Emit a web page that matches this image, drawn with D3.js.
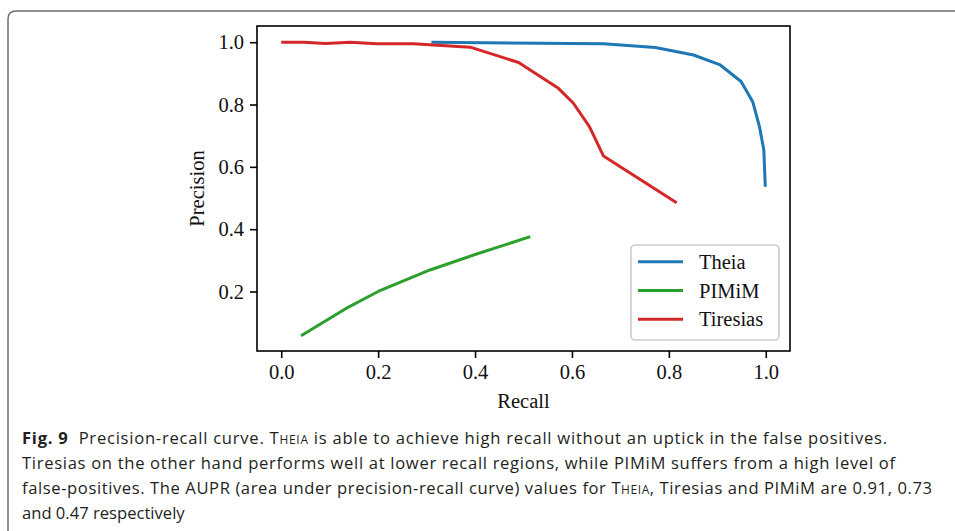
<!DOCTYPE html>
<html>
<head>
<meta charset="utf-8">
<script src="https://cdn.jsdelivr.net/npm/d3@7"></script>
<style>
  html, body { margin: 0; padding: 0; background: #fff; }
  svg { display: block; }
</style>
</head>
<body>
<svg id="chart" width="955" height="531"></svg>
<script>
// ---- data ----
const seriesNames = ["Theia", "PIMiM", "Tiresias"];
const theiaRecall    = [0.31, 0.665, 0.772, 0.851, 0.906, 0.949, 0.973, 0.987, 0.996, 0.999];
const theiaPrecision = [1.0, 0.995, 0.983, 0.959, 0.927, 0.874, 0.809, 0.729, 0.654, 0.536];
const pimimRecall    = [0.041, 0.132, 0.200, 0.307, 0.397, 0.514];
const pimimPrecision = [0.058, 0.144, 0.200, 0.269, 0.317, 0.376];
const tiresiasRecall    = [0.0, 0.046, 0.091, 0.142, 0.197, 0.273, 0.39, 0.49, 0.572, 0.603, 0.636, 0.665, 0.816];
const tiresiasPrecision = [1.0, 1.0, 0.996, 1.0, 0.995, 0.995, 0.984, 0.935, 0.852, 0.804, 0.729, 0.635, 0.485];
const xTicks = [0.0, 0.2, 0.4, 0.6, 0.8, 1.0];
const yTicks = [0.2, 0.4, 0.6, 0.8, 1.0];
const xLabel = "Recall";
const yLabel = "Precision";
const captionLines = [
  [{b:"Fig. 9"}, {t:"  Precision-recall curve. "}, {sc:"Theia"}, {t:" is able to achieve high recall without an uptick in the false positives."}],
  [{t:"Tiresias on the other hand performs well at lower recall regions, while PIMiM suffers from a high level of"}],
  [{t:"false-positives. The AUPR (area under precision-recall curve) values for "}, {sc:"Theia"}, {t:", Tiresias and PIMiM are 0.91, 0.73"}],
  [{t:"and 0.47 respectively"}]
];
const captionWidths = [865, 873, 910, null];

const series = [
  {name: seriesNames[0], r: theiaRecall, p: theiaPrecision, color: "#1f77b4"},
  {name: seriesNames[1], r: pimimRecall, p: pimimPrecision, color: "#2ca02c"},
  {name: seriesNames[2], r: tiresiasRecall, p: tiresiasPrecision, color: "#d62728"}
];

// ---- layout ----
const svg = d3.select("#chart");
const plot = {left: 257, top: 26, right: 790, bottom: 351};
const x = d3.scaleLinear().domain([-0.05, 1.05]).range([plot.left, plot.right]);
const y = d3.scaleLinear().domain([0.009, 1.052]).range([plot.bottom, plot.top]);
const serif = "'Liberation Serif', 'Times New Roman', serif";

// frame
svg.append("path")
  .attr("d", "M8,531 V19 Q8,11 16,11 H955")
  .attr("fill", "none").attr("stroke", "#6e6e6e").attr("stroke-width", 1.5);

// lines
const line = d3.line().x(d => x(d[0])).y(d => y(d[1]));
series.forEach(s => {
  svg.append("path")
    .datum(s.r.map((v, i) => [v, s.p[i]]))
    .attr("d", line)
    .attr("fill", "none")
    .attr("stroke", s.color)
    .attr("stroke-width", 3)
    .attr("stroke-linejoin", "round")
    .attr("stroke-linecap", "butt");
});

// axes
const xAxis = d3.axisBottom(x).tickValues(xTicks).tickFormat(d3.format(".1f")).tickSize(7).tickPadding(6);
const yAxis = d3.axisLeft(y).tickValues(yTicks).tickFormat(d3.format(".1f")).tickSize(7).tickPadding(6);
const gx = svg.append("g").attr("transform", `translate(0,${plot.bottom})`).call(xAxis);
const gy = svg.append("g").attr("transform", `translate(${plot.left},0)`).call(yAxis);
[gx, gy].forEach(g => {
  g.select(".domain").remove();
  g.selectAll(".tick line").attr("stroke", "#000").attr("stroke-width", 1.6);
  g.selectAll(".tick text").attr("fill", "#111").style("font-family", serif).style("font-size", "20.5px");
});

// spines
svg.append("rect")
  .attr("x", plot.left).attr("y", plot.top)
  .attr("width", plot.right - plot.left).attr("height", plot.bottom - plot.top)
  .attr("fill", "none").attr("stroke", "#000").attr("stroke-width", 1.6);

// axis labels
svg.append("text").text(xLabel)
  .attr("x", (plot.left + plot.right) / 2).attr("y", 408)
  .attr("text-anchor", "middle").attr("fill", "#111")
  .style("font-family", serif).style("font-size", "20.5px");
svg.append("text").text(yLabel)
  .attr("transform", `translate(204,${(plot.top + plot.bottom) / 2}) rotate(-90)`)
  .attr("text-anchor", "middle").attr("fill", "#111")
  .style("font-family", serif).style("font-size", "20.5px");

// legend
const lg = svg.append("g");
lg.append("rect")
  .attr("x", 631).attr("y", 245).attr("width", 148).attr("height", 95)
  .attr("rx", 4).attr("ry", 4)
  .attr("fill", "#fff").attr("fill-opacity", 0.8)
  .attr("stroke", "#cccccc").attr("stroke-width", 1.6);
series.forEach((s, i) => {
  const cy = 261.7 + i * 28.8;
  lg.append("line").attr("x1", 638).attr("x2", 683).attr("y1", cy).attr("y2", cy)
    .attr("stroke", s.color).attr("stroke-width", 3);
  lg.append("text").text(s.name).attr("x", 699).attr("y", cy + 7)
    .attr("fill", "#111").style("font-family", serif).style("font-size", "20.5px");
});

// caption
const sans = "'Open Sans', 'Noto Sans', sans-serif";
const cap = svg.append("g").attr("fill", "#231f20").style("font-family", sans);
const fs = 16.6;
captionLines.forEach((parts, li) => {
  const t = cap.append("text").attr("x", 22).attr("y", 444 + li * 25)
    .style("font-size", fs + "px").style("white-space", "pre");
  parts.forEach(p => {
    if (p.b) t.append("tspan").text(p.b).style("font-weight", "bold");
    else if (p.t) t.append("tspan").text(p.t);
    else if (p.sc) {
      t.append("tspan").text(p.sc[0]);
      t.append("tspan").text(p.sc.slice(1).toUpperCase()).style("font-size", (fs * 0.72) + "px");
    }
  });
  if (captionWidths[li]) t.attr("textLength", captionWidths[li]).attr("lengthAdjust", "spacing");
});
</script>
</body>
</html>
